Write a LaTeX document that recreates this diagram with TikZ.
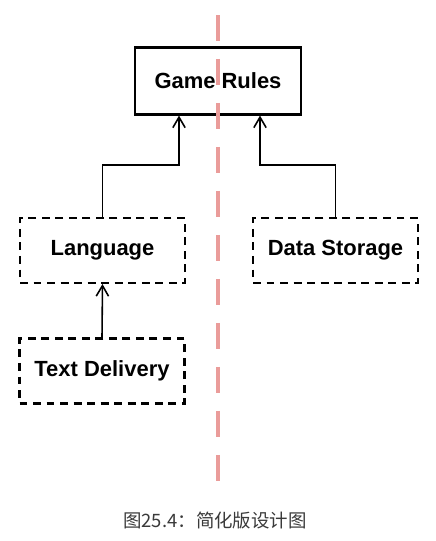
\documentclass[tikz,border=0pt]{standalone}
\usepackage{fontspec}
\setmainfont{Liberation Sans}
\newfontfamily\cjk{Noto Sans CJK SC}
\usetikzlibrary{arrows.meta}

\definecolor{seamred}{HTML}{EA9C9A}
\definecolor{captiongray}{HTML}{3A3A3A}

\tikzset{
  modbox/.style  = {draw, line width = 1.2pt, inner sep = 0pt,
                    minimum width = 3.3cm, minimum height = 1.3cm,
                    font = \bfseries\fontsize{12.5}{14}\selectfont},
  rulebox/.style = {modbox, minimum width = 3.32cm, minimum height = 1.34cm},
  stubbox/.style = {modbox, dash pattern = on 4.5pt off 3.2pt},
  uses/.style    = {line width = 0.9pt, -{Straight Barb[length=6pt, width=7pt]}},
  seam/.style    = {seamred, line width = 0.08cm,
                    dash pattern = on 0.52cm off 0.36cm}
}

\begin{document}
\begin{tikzpicture}[x = {(0.02cm, 0cm)},
                    y = {(0cm, -0.02cm)}]

  \useasboundingbox[fill = white] (0, 0) rectangle (436, 541);

  % modules
  \node[rulebox] (rules)    at (218, 81)    {Game Rules};
  \node[stubbox] (language) at (102.5, 250.5) {Language};
  \node[stubbox] (storage)  at (335.5, 250.5) {Data Storage};
  \node[stubbox] (delivery) at (102, 371)   {Text Delivery};

  % dependencies
  \coordinate (jl) at (179, 165); % left elbow
  \coordinate (jr) at (260, 165); % right elbow
  \draw[uses] (language.north) |- (jl) -- (jl |- rules.south);
  \draw[uses] (storage.north)  |- (jr) -- (jr |- rules.south);
  \draw[uses] (delivery.north) -- (language.south);

  % split line
  \coordinate (top) at (218, 15);
  \coordinate (bot) at (218, 481);
  \draw[seam] (top) -- (bot);

  % caption
  \node[font = \cjk\fontsize{10.5}{12}\selectfont, text = captiongray]
    (caption) at (215, 521) {图25.4：简化版设计图};
\end{tikzpicture}
\end{document}
